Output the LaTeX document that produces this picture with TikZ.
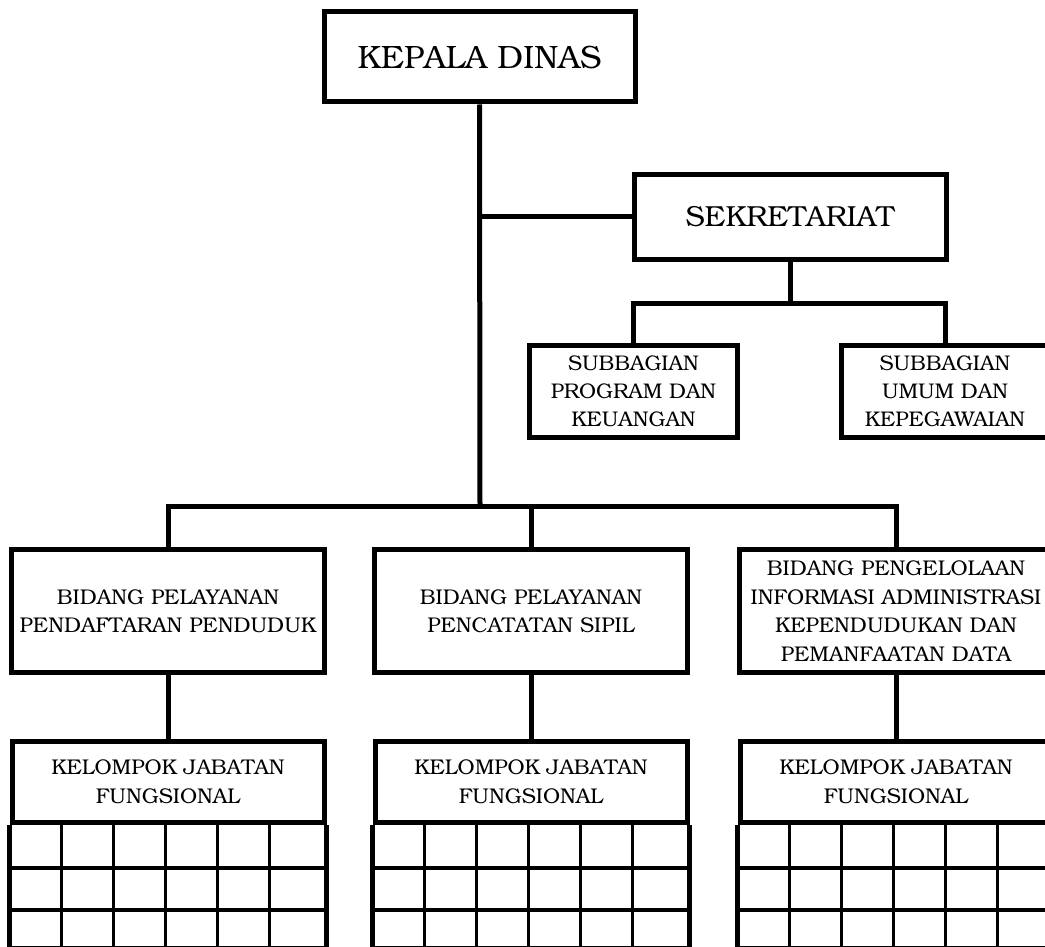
\documentclass[tikz,border=0pt]{standalone}
\usepackage[T1]{fontenc}
\usepackage{bookman}
\usepackage{tikz}
\usetikzlibrary{positioning}

\begin{document}
\begin{tikzpicture}[
        x=1pt, y=-1pt, line width=5pt,
        every node/.style={draw, line width=5pt, align=center, inner sep=0pt},
        head/.style={minimum width=311pt, minimum height=90pt, font=\fontsize{32.3}{36}\selectfont},
        sekbox/.style={minimum width=312pt, minimum height=85pt, font=\fontsize{29}{32}\selectfont},
        subbox/.style={minimum width=208pt, minimum height=92pt, font=\fontsize{21.2}{28}\selectfont},
        bidbox/.style={minimum width=313pt, minimum height=123pt, font=\fontsize{21.3}{28.5}\selectfont},
        kelbox/.style={minimum width=312pt, minimum height=80.5pt, font=\fontsize{21.3}{29.5}\selectfont},
        cell/.style={line width=3pt},
        row/.style={line width=4pt}
    ]
  \useasboundingbox (0,0) rectangle (1045,947);
  \clip (0,0) rectangle (1045,947);

  % Nodes
  \node[head] (kepala) at (479.5,57) {KEPALA DINAS};
  \node[sekbox] (sekretariat) at (790,217) {SEKRETARIAT};
  \node[subbox] (sub1) at (633.5,391.5) {SUBBAGIAN\\PROGRAM DAN\\KEUANGAN};
  \node[subbox] (sub2) at (945,391.5) {SUBBAGIAN\\UMUM DAN\\KEPEGAWAIAN};
  \node[bidbox] (bid1) at (168,611) {BIDANG PELAYANAN\\PENDAFTARAN PENDUDUK};
  \node[bidbox] (bid2) at (531,611) {BIDANG PELAYANAN\\PENCATATAN SIPIL};
  \node[bidbox] (bid3) at (896,611) {BIDANG PENGELOLAAN\\INFORMASI ADMINISTRASI\\KEPENDUDUKAN DAN\\PEMANFAATAN DATA};
  \node[kelbox] (kel1) at (168,781.75) {KELOMPOK JABATAN\\FUNGSIONAL};
  \node[kelbox] (kel2) at (531,781.75) {KELOMPOK JABATAN\\FUNGSIONAL};
  \node[kelbox] (kel3) at (896,781.75) {KELOMPOK JABATAN\\FUNGSIONAL};

  \coordinate (subbar) at (790,303);
  \coordinate (bidbar) at (480,506);

  % Lines
  \draw (kepala.south) -- (bidbar);
  \draw (kepala.south |- sekretariat.west) -- (sekretariat.west);
  \draw (sekretariat.south) -- (subbar);
  \draw (sub1.north) |- (subbar) -| (sub2.north);
  \draw (bid1.north) |- (bidbar) -| (bid3.north);
  \draw (bid2.north) -- (bid2.north |- bidbar);
  \draw (bid1.south) -- (kel1.north);
  \draw (bid2.south) -- (kel2.north);
  \draw (bid3.south) -- (kel3.north);

  % Grids
  \foreach \k in {kel1,kel2,kel3} {
    \foreach \i in {1,...,5}
      \draw[cell] ([xshift=52*\i pt]\k.south west) -- ++(0,124);
    \foreach \r in {43,85}
      \draw[row] ([yshift=-\r pt]\k.south west) -- ([yshift=-\r pt]\k.south east);
    \draw (\k.south west) -- ++(0,124) -| (\k.south east);
  }
\end{tikzpicture}
\end{document}
